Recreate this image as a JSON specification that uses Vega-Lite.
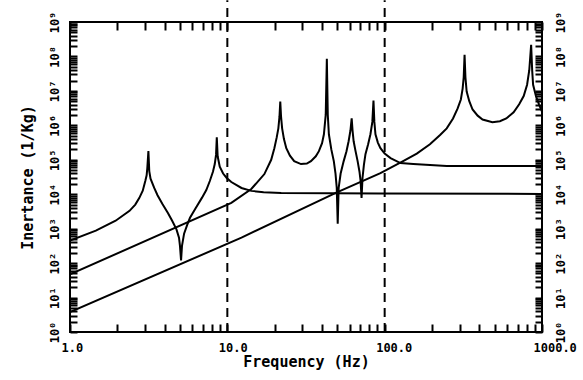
{
  "$schema": "https://vega.github.io/schema/vega-lite/v6.json",
  "width": 472,
  "height": 310,
  "autosize": "none",
  "padding": {"left": 70, "top": 22, "right": 41, "bottom": 48},
  "background": "white",
  "config": {
    "view": {"stroke": "black", "strokeWidth": 2},
    "font": "DejaVu Sans Mono",
    "axis": {
      "grid": false,
      "domainColor": "black",
      "domainWidth": 2,
      "tickColor": "black",
      "tickWidth": 2,
      "labelColor": "black",
      "labelFont": "DejaVu Sans Mono",
      "labelFontWeight": "bold",
      "labelFontSize": 12,
      "labelOverlap": false,
      "labelFlush": false,
      "titleFont": "DejaVu Sans Mono",
      "titleFontWeight": "bold",
      "titleColor": "black",
      "titleFontSize": 15
    }
  },
  "datasets": {
    "curves": [
      {"c": "a", "f": 1, "I": 451},
      {"c": "a", "f": 1.46, "I": 875},
      {"c": "a", "f": 1.95, "I": 1700},
      {"c": "a", "f": 2.39, "I": 3300},
      {"c": "a", "f": 2.6, "I": 5010},
      {"c": "a", "f": 2.76, "I": 7830},
      {"c": "a", "f": 2.9, "I": 12600},
      {"c": "a", "f": 3.01, "I": 24200},
      {"c": "a", "f": 3.07, "I": 35500},
      {"c": "a", "f": 3.10, "I": 57400},
      {"c": "a", "f": 3.15, "I": 178000},
      {"c": "a", "f": 3.19, "I": 47100},
      {"c": "a", "f": 3.25, "I": 28200},
      {"c": "a", "f": 3.43, "I": 15200},
      {"c": "a", "f": 3.6, "I": 9330},
      {"c": "a", "f": 3.86, "I": 5260},
      {"c": "a", "f": 4.2, "I": 2820},
      {"c": "a", "f": 4.46, "I": 1700},
      {"c": "a", "f": 4.75, "I": 955},
      {"c": "a", "f": 4.93, "I": 550},
      {"c": "a", "f": 5.0, "I": 316},
      {"c": "a", "f": 5.08, "I": 119},
      {"c": "a", "f": 5.15, "I": 316},
      {"c": "a", "f": 5.31, "I": 716},
      {"c": "a", "f": 5.55, "I": 1260},
      {"c": "a", "f": 5.79, "I": 2070},
      {"c": "a", "f": 6.3, "I": 3980},
      {"c": "a", "f": 6.89, "I": 7830},
      {"c": "a", "f": 7.35, "I": 13200},
      {"c": "a", "f": 7.74, "I": 24200},
      {"c": "a", "f": 8.1, "I": 44700},
      {"c": "a", "f": 8.32, "I": 75000},
      {"c": "a", "f": 8.48, "I": 141000},
      {"c": "a", "f": 8.57, "I": 450000},
      {"c": "a", "f": 8.68, "I": 126000},
      {"c": "a", "f": 8.95, "I": 63100},
      {"c": "a", "f": 9.4, "I": 39800},
      {"c": "a", "f": 9.91, "I": 29600},
      {"c": "a", "f": 10.6, "I": 22600},
      {"c": "a", "f": 12.3, "I": 15200},
      {"c": "a", "f": 14.2, "I": 12500},
      {"c": "a", "f": 17.0, "I": 11500},
      {"c": "a", "f": 22.0, "I": 10900},
      {"c": "a", "f": 94, "I": 10500},
      {"c": "a", "f": 1000, "I": 10200},
      {"c": "b", "f": 1, "I": 47.1},
      {"c": "b", "f": 10.6, "I": 5620},
      {"c": "b", "f": 14.2, "I": 14200},
      {"c": "b", "f": 17.2, "I": 38500},
      {"c": "b", "f": 19.0, "I": 100000},
      {"c": "b", "f": 19.9, "I": 217000},
      {"c": "b", "f": 20.6, "I": 447000},
      {"c": "b", "f": 21.1, "I": 818000},
      {"c": "b", "f": 21.45, "I": 1780000},
      {"c": "b", "f": 21.7, "I": 4920000},
      {"c": "b", "f": 21.95, "I": 1780000},
      {"c": "b", "f": 22.3, "I": 818000},
      {"c": "b", "f": 22.9, "I": 398000},
      {"c": "b", "f": 23.7, "I": 217000},
      {"c": "b", "f": 25.0, "I": 132000},
      {"c": "b", "f": 26.6, "I": 91400},
      {"c": "b", "f": 29.4, "I": 75000},
      {"c": "b", "f": 32.0, "I": 77600},
      {"c": "b", "f": 34.0, "I": 91400},
      {"c": "b", "f": 36.5, "I": 126000},
      {"c": "b", "f": 38.2, "I": 178000},
      {"c": "b", "f": 40.0, "I": 302000},
      {"c": "b", "f": 41.1, "I": 550000},
      {"c": "b", "f": 42.2, "I": 2000000},
      {"c": "b", "f": 42.9, "I": 85000000},
      {"c": "b", "f": 43.5, "I": 2000000},
      {"c": "b", "f": 44.2, "I": 550000},
      {"c": "b", "f": 45.8, "I": 200000},
      {"c": "b", "f": 47.5, "I": 91400},
      {"c": "b", "f": 48.7, "I": 39800},
      {"c": "b", "f": 49.6, "I": 15200},
      {"c": "b", "f": 50.3, "I": 1390},
      {"c": "b", "f": 51.0, "I": 15200},
      {"c": "b", "f": 52.5, "I": 39800},
      {"c": "b", "f": 54.9, "I": 91400},
      {"c": "b", "f": 57.2, "I": 178000},
      {"c": "b", "f": 59.0, "I": 345000},
      {"c": "b", "f": 60.6, "I": 708000},
      {"c": "b", "f": 61.7, "I": 1590000},
      {"c": "b", "f": 62.5, "I": 708000},
      {"c": "b", "f": 63.5, "I": 345000},
      {"c": "b", "f": 65.3, "I": 178000},
      {"c": "b", "f": 67.3, "I": 91400},
      {"c": "b", "f": 69.2, "I": 44700},
      {"c": "b", "f": 70.3, "I": 24200},
      {"c": "b", "f": 71.3, "I": 7830},
      {"c": "b", "f": 72.3, "I": 29600},
      {"c": "b", "f": 73.8, "I": 70800},
      {"c": "b", "f": 75.5, "I": 146000},
      {"c": "b", "f": 78.5, "I": 282000},
      {"c": "b", "f": 81.2, "I": 550000},
      {"c": "b", "f": 83.5, "I": 1260000},
      {"c": "b", "f": 84.9, "I": 5250000},
      {"c": "b", "f": 86.0, "I": 1260000},
      {"c": "b", "f": 87.4, "I": 550000},
      {"c": "b", "f": 90.5, "I": 316000},
      {"c": "b", "f": 94.0, "I": 217000},
      {"c": "b", "f": 100, "I": 151000},
      {"c": "b", "f": 109, "I": 112000},
      {"c": "b", "f": 126, "I": 80200},
      {"c": "b", "f": 152, "I": 75000},
      {"c": "b", "f": 248, "I": 65600},
      {"c": "b", "f": 1000, "I": 65600},
      {"c": "c", "f": 1, "I": 3.78},
      {"c": "c", "f": 12.3, "I": 550},
      {"c": "c", "f": 48.9, "I": 11000},
      {"c": "c", "f": 94, "I": 41200},
      {"c": "c", "f": 131, "I": 91400},
      {"c": "c", "f": 160, "I": 151000},
      {"c": "c", "f": 194, "I": 282000},
      {"c": "c", "f": 225, "I": 525000},
      {"c": "c", "f": 248, "I": 818000},
      {"c": "c", "f": 272, "I": 1580000},
      {"c": "c", "f": 291, "I": 3090000},
      {"c": "c", "f": 305, "I": 5620000},
      {"c": "c", "f": 313, "I": 11700000},
      {"c": "c", "f": 318, "I": 25100000},
      {"c": "c", "f": 322, "I": 112000000},
      {"c": "c", "f": 326, "I": 25100000},
      {"c": "c", "f": 332, "I": 9550000},
      {"c": "c", "f": 345, "I": 5010000},
      {"c": "c", "f": 362, "I": 2880000},
      {"c": "c", "f": 390, "I": 1910000},
      {"c": "c", "f": 419, "I": 1480000},
      {"c": "c", "f": 484, "I": 1230000},
      {"c": "c", "f": 540, "I": 1320000},
      {"c": "c", "f": 593, "I": 1580000},
      {"c": "c", "f": 660, "I": 2400000},
      {"c": "c", "f": 716, "I": 4070000},
      {"c": "c", "f": 765, "I": 7080000},
      {"c": "c", "f": 804, "I": 15100000},
      {"c": "c", "f": 830, "I": 39800000},
      {"c": "c", "f": 853, "I": 219000000},
      {"c": "c", "f": 866, "I": 39800000},
      {"c": "c", "f": 878, "I": 15100000},
      {"c": "c", "f": 915, "I": 7080000},
      {"c": "c", "f": 957, "I": 4070000},
      {"c": "c", "f": 1000, "I": 2510000}
    ],
    "dashes": [
      {"f": 10, "lo": 1, "hi": 4300000000},
      {"f": 100, "lo": 1, "hi": 4300000000}
    ]
  },
  "resolve": {"axis": {"x": "independent", "y": "independent"}},
  "layer": [
    {
      "data": {"name": "curves"},
      "mark": {"type": "line", "color": "black", "strokeWidth": 2, "clip": true},
      "encoding": {
        "x": {
          "field": "f", "type": "quantitative",
          "scale": {"type": "log", "domain": [1, 1000], "nice": false},
          "axis": {
            "orient": "bottom",
            "values": [1,2,3,4,5,6,7,8,9,10,20,30,40,50,60,70,80,90,100,200,300,400,500,600,700,800,900,1000],
            "labels": false,
            "domain": false,
            "offset": -8,
            "tickSize": 8,
            "title": null
          }
        },
        "y": {
          "field": "I", "type": "quantitative",
          "scale": {"type": "log", "domain": [1, 1000000000], "nice": false},
          "axis": {
            "orient": "left",
            "values": [1,2,3,4,5,6,7,8,9,10,20,30,40,50,60,70,80,90,100,200,300,400,500,600,700,800,900,1000,2000,3000,4000,5000,6000,7000,8000,9000,10000,20000,30000,40000,50000,60000,70000,80000,90000,100000,200000,300000,400000,500000,600000,700000,800000,900000,1000000,2000000,3000000,4000000,5000000,6000000,7000000,8000000,9000000,10000000,20000000,30000000,40000000,50000000,60000000,70000000,80000000,90000000,100000000,200000000,300000000,400000000,500000000,600000000,700000000,800000000,900000000,1000000000],
            "labels": false,
            "domain": false,
            "offset": -7,
            "tickSize": 7,
            "title": null
          }
        },
        "detail": {"field": "c"}
      }
    },
    {
      "data": {"name": "dashes"},
      "mark": {"type": "rule", "color": "black", "strokeWidth": 2, "strokeDash": [9, 6]},
      "encoding": {
        "x": {
          "field": "f", "type": "quantitative",
          "scale": {"type": "log", "domain": [1, 1000], "nice": false},
          "axis": {
            "orient": "top",
            "values": [1,2,3,4,5,6,7,8,9,10,20,30,40,50,60,70,80,90,100,200,300,400,500,600,700,800,900,1000],
            "labels": false,
            "domain": false,
            "offset": -8,
            "tickSize": 8,
            "title": null
          }
        },
        "y": {
          "field": "lo", "type": "quantitative",
          "scale": {"type": "log", "domain": [1, 1000000000], "nice": false},
          "axis": {
            "orient": "right",
            "values": [1,2,3,4,5,6,7,8,9,10,20,30,40,50,60,70,80,90,100,200,300,400,500,600,700,800,900,1000,2000,3000,4000,5000,6000,7000,8000,9000,10000,20000,30000,40000,50000,60000,70000,80000,90000,100000,200000,300000,400000,500000,600000,700000,800000,900000,1000000,2000000,3000000,4000000,5000000,6000000,7000000,8000000,9000000,10000000,20000000,30000000,40000000,50000000,60000000,70000000,80000000,90000000,100000000,200000000,300000000,400000000,500000000,600000000,700000000,800000000,900000000,1000000000],
            "labels": false,
            "domain": false,
            "offset": -7,
            "tickSize": 7,
            "title": null
          }
        },
        "y2": {"field": "hi"}
      }
    },
    {
      "data": {"name": "dashes"},
      "mark": {"type": "rule", "opacity": 0},
      "encoding": {
        "x": {
          "field": "f", "type": "quantitative",
          "scale": {"type": "log", "domain": [1, 1000], "nice": false},
          "axis": {
            "orient": "bottom",
            "values": [1, 10, 100, 1000],
            "format": ".1f",
            "ticks": false,
            "tickSize": 0,
            "domain": false,
            "labelAlign": "left",
            "labelOffset": -9,
            "labelPadding": 10,
            "title": "Frequency (Hz)",
            "titlePadding": 1
          }
        },
        "y": {
          "field": "lo", "type": "quantitative",
          "scale": {"type": "log", "domain": [1, 1000000000], "nice": false},
          "axis": {
            "orient": "left",
            "values": [1,10,100,1000,10000,100000,1000000,10000000,100000000,1000000000],
            "labelExpr": "'10' + ['⁰','¹','²','³','⁴','⁵','⁶','⁷','⁸','⁹'][round(log(datum.value)/LN10)]",
            "ticks": false,
            "tickSize": 0,
            "domain": false,
            "labelAngle": -90,
            "labelPadding": 9,
            "title": "Inertance (1/Kg)",
            "titlePadding": 13
          }
        },
        "y2": {"field": "hi"}
      }
    },
    {
      "data": {"name": "dashes"},
      "mark": {"type": "rule", "opacity": 0},
      "encoding": {
        "x": {
          "field": "f", "type": "quantitative",
          "scale": {"type": "log", "domain": [1, 1000], "nice": false},
          "axis": null
        },
        "y": {
          "field": "lo", "type": "quantitative",
          "scale": {"type": "log", "domain": [1, 1000000000], "nice": false},
          "axis": {
            "orient": "right",
            "values": [1,10,100,1000,10000,100000,1000000,10000000,100000000,1000000000],
            "labelExpr": "'10' + ['⁰','¹','²','³','⁴','⁵','⁶','⁷','⁸','⁹'][round(log(datum.value)/LN10)]",
            "ticks": false,
            "tickSize": 0,
            "domain": false,
            "labelAngle": -90,
            "labelPadding": 13,
            "title": null
          }
        },
        "y2": {"field": "hi"}
      }
    }
  ]
}
